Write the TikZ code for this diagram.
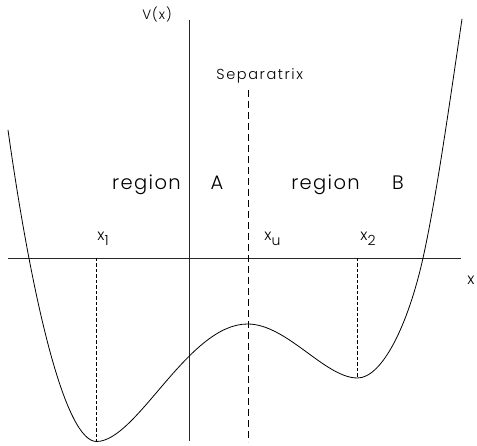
\documentclass[tikz,border=0pt]{standalone}
\usepackage{fontspec}
\setmainfont{Poppins}[UprightFont=* Light,LetterSpace=7]
\usepackage{tikz}

\newcommand{\lowsub}[1]{\raisebox{-4.5pt}{\fontsize{14}{15}\selectfont #1}}

\begin{document}
\begin{tikzpicture}[x=1pt,y=1pt,line width=0.8pt]
    \tikzset{
        axisline/.style={black!85},
        guide/.style={dash pattern=on 3.5pt off 2pt,line width=0.6pt},
        sepline/.style={dash pattern=on 7pt off 4pt,line width=0.7pt},
        biglbl/.style={anchor=base,inner sep=0pt,font=\fontsize{19.5}{21}\selectfont},
        smalllbl/.style={anchor=base west,inner sep=0pt,font=\fontsize{13.5}{15}\selectfont},
        poslbl/.style={anchor=base west,inner sep=0pt,font=\fontsize{15.5}{17}\selectfont}
    }
    \useasboundingbox (0,0) rectangle (477,446);

    % axes
    \coordinate (xl) at (8,188);
    \coordinate (xr) at (461,188);
    \coordinate (vtop) at (189.5,426);
    \coordinate (vbot) at (189.5,5);
    \draw[axisline] (xl) -- (xr);
    \draw[axisline] (vbot) -- (vtop);

    % extrema of the potential
    \coordinate (min1) at (96.5,4.5);
    \coordinate (xmax) at (247.5,122);
    \coordinate (min2) at (357.5,68);
    \coordinate (zero2) at (423,188);

    \draw (8,316) .. controls (33,138.5) and (66,4.5) .. (min1)
        .. controls (137,4.5) and (188,122) .. (xmax)
        .. controls (287,122) and (325,68) .. (min2)
        .. controls (382,68) and (408,120.5) .. (zero2)
        .. controls (436,246.5) and (449,338.6) .. (462,427);

    % separatrix and guides
    \coordinate (septop) at (248,356);
    \coordinate (sepbot) at (248,4);
    \draw[sepline] (septop) -- (sepbot);
    \draw[guide] (min1 |- xl) -- (min1);
    \draw[guide] (min2 |- xl) -- (min2);

    % labels
    \node[smalllbl] (vlabel) at (142,426) {V(x)};
    \node[smalllbl,font=\fontsize{14.5}{16}\selectfont\addfontfeature{LetterSpace=11}]
        (seplabel) at (216,366) {Separatrix};
    \node[biglbl] (regA) at (146.5,256) {region};
    \node[biglbl] (lblA) at (217,256) {A};
    \node[biglbl] (regB) at (325.5,256) {region};
    \node[biglbl] (lblB) at (398,256) {B};
    \node[poslbl] (x1) at (97,205) {x\lowsub{1}};
    \node[poslbl] (xu) at (264,205) {x\lowsub{u}};
    \node[poslbl] (x2) at (360,205) {x\lowsub{2}};
    \node[poslbl] (xlabel) at (467,161) {x};
\end{tikzpicture}
\end{document}
